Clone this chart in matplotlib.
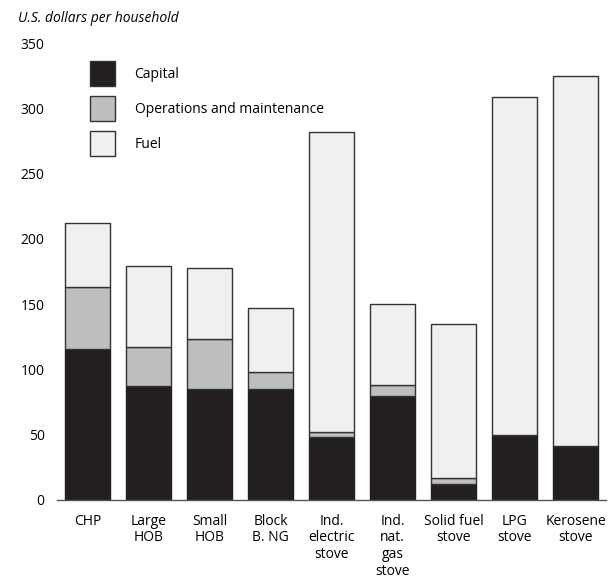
import numpy as np
import matplotlib
matplotlib.use('Agg')
import matplotlib.pyplot as plt
from matplotlib.patches import Patch

plt.rcParams['font.family'] = ['Open Sans', 'DejaVu Sans']

categories = ['CHP', 'Large\nHOB', 'Small\nHOB', 'Block\nB. NG', 'Ind.\nelectric\nstove',
              'Ind.\nnat.\ngas\nstove', 'Solid fuel\nstove', 'LPG\nstove', 'Kerosene\nstove']
capital = [116, 87, 85, 85, 48, 80, 12, 50, 41]
om = [47, 30, 38, 13, 4, 8, 5, 0, 0]
fuel = [49, 62, 55, 49, 229.5, 62, 118, 258.5, 284]

col_capital = '#231f20'
col_om = '#bcbec0'
col_fuel = '#f0f0f0'
edge = '#333333'

fig = plt.figure(figsize=(6.14, 5.82), dpi=100)
ax = fig.add_axes([0.093, 0.141, 0.894, 0.785])

x = np.arange(len(categories))
capital = np.array(capital)
om = np.array(om)
fuel = np.array(fuel)
w = 0.73

ax.bar(x, capital, w, color=col_capital, edgecolor=col_capital, linewidth=1)
ax.bar(x, om, w, bottom=capital, color=col_om, edgecolor=edge, linewidth=1)
ax.bar(x, fuel, w, bottom=capital + om, color=col_fuel, edgecolor=edge, linewidth=1)

ax.set_xlim(-0.5, 8.5)
ax.set_ylim(0, 350)
ax.set_yticks(range(0, 351, 50))
ax.set_xticks(x)
ax.set_xticklabels(categories, fontsize=10, linespacing=1.15, va='top')
ax.tick_params(axis='x', length=0, pad=10)
ax.tick_params(axis='y', length=0, pad=9, labelsize=10)

for s in ['top', 'right', 'left']:
    ax.spines[s].set_visible(False)
ax.spines['bottom'].set_color('#555555')
ax.spines['bottom'].set_linewidth(1)

fig.text(0.029, 0.968, 'U.S. dollars per household', fontsize=10, style='italic',
         ha='left', va='center')

handles = [Patch(facecolor=col_capital, edgecolor=edge, label='Capital'),
           Patch(facecolor=col_om, edgecolor=edge, label='Operations and maintenance'),
           Patch(facecolor=col_fuel, edgecolor=edge, label='Fuel')]
ax.legend(handles=handles, loc='upper left', bbox_to_anchor=(0.05, 0.974), frameon=False,
          fontsize=10, handlelength=1.8, handleheight=2.5, labelspacing=0.65,
          handletextpad=1.4, borderaxespad=0)

fig.savefig('out.png', dpi=100)
